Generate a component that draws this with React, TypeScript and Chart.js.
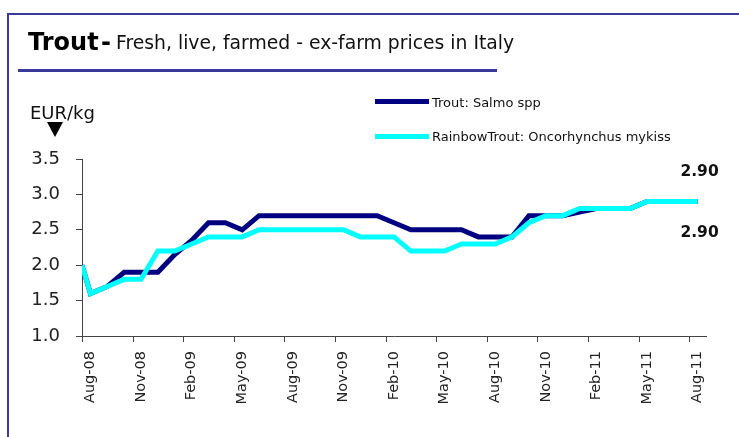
import React, { useEffect, useRef } from "react";
import { Chart, registerables } from "chart.js";

Chart.register(...registerables);

// ---- data ----
const tickLabels = [
  "Aug-08", "Nov-08", "Feb-09", "May-09", "Aug-09", "Nov-09", "Feb-10",
  "May-10", "Aug-10", "Nov-10", "Feb-11", "May-11", "Aug-11",
];

// first value = opening point at the axis, then monthly Aug-08 .. Aug-11
const troutSalmo = [
  2.0,
  1.6, 1.7, 1.9, 1.9, 1.9, 2.15, 2.35, 2.6, 2.6, 2.5,
  2.7, 2.7, 2.7, 2.7, 2.7, 2.7, 2.7, 2.7, 2.6, 2.5,
  2.5, 2.5, 2.5, 2.4, 2.4, 2.4, 2.7, 2.7, 2.7, 2.75,
  2.8, 2.8, 2.8, 2.9, 2.9, 2.9, 2.9,
];

const rainbowTrout = [
  2.0,
  1.6, 1.7, 1.8, 1.8, 2.2, 2.2, 2.3, 2.4, 2.4, 2.4,
  2.5, 2.5, 2.5, 2.5, 2.5, 2.5, 2.4, 2.4, 2.4, 2.2,
  2.2, 2.2, 2.3, 2.3, 2.3, 2.4, 2.6, 2.7, 2.7, 2.8,
  2.8, 2.8, 2.8, 2.9, 2.9, 2.9, 2.9,
];

const seriesNames = ["Trout: Salmo spp", "RainbowTrout: Oncorhynchus mykiss"];
const seriesColors = ["#000080", "#00FFFF"];

const yMin = 1.0;
const yMax = 3.5;
const yStep = 0.5;
const monthsSpan = 37;
const monthsPerTick = 3;

const FONT = '"DejaVu Sans", sans-serif';
const AXIS = "#444444";
const FRAME = "#3a3a9a";

const xOf = (i: number) => (i === 0 ? 0 : i - 0.5);
const toPoints = (arr: number[]) => arr.map((v, i) => ({ x: xOf(i), y: v }));

const decorPlugin = {
  id: "decor",
  afterDraw(chart: any) {
    const { ctx, chartArea, scales } = chart;
    const x = scales.x;
    const y = scales.y;
    ctx.save();
    ctx.strokeStyle = AXIS;
    ctx.lineWidth = 1;
    for (let k = 0; k < tickLabels.length; k++) {
      const px = Math.round(x.getPixelForValue(k * monthsPerTick)) + 0.5;
      ctx.beginPath();
      ctx.moveTo(px, chartArea.bottom);
      ctx.lineTo(px, chartArea.bottom + 6);
      ctx.stroke();
    }
    ctx.font = `bold 15.5px ${FONT}`;
    ctx.fillStyle = "#111111";
    ctx.textAlign = "center";
    ctx.textBaseline = "middle";
    chart.data.datasets.forEach((ds: any, di: number) => {
      const last = ds.data[ds.data.length - 1];
      const px = x.getPixelForValue(last.x) + 2;
      const py = y.getPixelForValue(last.y) + (di === 0 ? -30 : 31);
      ctx.fillText(last.y.toFixed(2), px, py);
    });
    ctx.restore();
  },
};

export default function App() {
  const canvasRef = useRef<HTMLCanvasElement | null>(null);

  useEffect(() => {
    if (!canvasRef.current) return;
    Chart.defaults.font.family = FONT;
    const chart = new Chart(canvasRef.current, {
      type: "line",
      data: {
        datasets: [
          {
            label: seriesNames[0],
            data: toPoints(troutSalmo),
            borderColor: seriesColors[0],
            backgroundColor: seriesColors[0],
            borderWidth: 5,
            pointRadius: 0,
            tension: 0,
            order: 1,
          },
          {
            label: seriesNames[1],
            data: toPoints(rainbowTrout),
            borderColor: seriesColors[1],
            backgroundColor: seriesColors[1],
            borderWidth: 5,
            pointRadius: 0,
            tension: 0,
            order: 0,
          },
        ],
      },
      options: {
        animation: false,
        responsive: false,
        layout: { padding: { top: 159, right: 33, left: 0, bottom: 0 } },
        plugins: {
          legend: { display: false },
          title: { display: false },
          tooltip: { enabled: false },
        },
        scales: {
          x: {
            type: "linear",
            min: 0,
            max: monthsSpan,
            afterBuildTicks: (scale: any) => {
              scale.ticks = tickLabels.map((_, k) => ({ value: k * monthsPerTick + 0.5 }));
            },
            afterFit: (scale: any) => {
              scale.height = 101;
            },
            ticks: {
              autoSkip: false,
              minRotation: 90,
              maxRotation: 90,
              padding: 15,
              color: "#222222",
              font: { size: 14.5, family: FONT },
              callback: (_v: any, i: number) => tickLabels[i],
            },
            grid: { display: false, drawTicks: false },
            border: { display: true, color: AXIS, width: 1 },
          },
          y: {
            min: yMin,
            max: yMax,
            afterFit: (scale: any) => {
              scale.width = 82;
            },
            ticks: {
              stepSize: yStep,
              padding: 16,
              color: "#222222",
              font: { size: 18, family: FONT },
              callback: (v: any) => Number(v).toFixed(1),
            },
            grid: {
              display: true,
              drawOnChartArea: false,
              drawTicks: true,
              tickLength: 6,
              color: AXIS,
            },
            border: { display: true, color: AXIS, width: 1 },
          },
        },
      },
      plugins: [decorPlugin],
    } as any);
    return () => chart.destroy();
  }, []);

  const abs = (o: React.CSSProperties): React.CSSProperties => ({
    position: "absolute",
    whiteSpace: "nowrap",
    fontFamily: FONT,
    ...o,
  });

  return (
    <div
      style={{
        position: "absolute",
        left: 0,
        top: 0,
        width: 739,
        height: 437,
        background: "#ffffff",
        overflow: "hidden",
      }}
    >
      <canvas ref={canvasRef} width={739} height={437} style={{ position: "absolute", left: 0, top: 0, display: "block" }} />
      {/* frame */}
      <div style={abs({ left: 7, top: 13, width: 740, height: 430, borderLeft: `2px solid ${FRAME}`, borderTop: `2px solid ${FRAME}` })} />
      {/* title */}
      <div style={abs({ left: 28, top: 30, fontSize: 24, lineHeight: "24px", fontWeight: "bold", color: "#000" })}>Trout</div>
      <div style={abs({ left: 101, top: 30, fontSize: 24, lineHeight: "24px", fontWeight: "bold", color: "#000" })}>-</div>
      <div style={abs({ left: 116, top: 34, fontSize: 18.8, lineHeight: "18.8px", color: "#111" })}>
        Fresh, live, farmed - ex-farm prices in Italy
      </div>
      <div style={abs({ left: 18, top: 69, width: 479, height: 3, background: FRAME })} />
      {/* legend */}
      <div style={abs({ left: 375, top: 99, width: 54, height: 5, background: seriesColors[0] })} />
      <div style={abs({ left: 432, top: 95, fontSize: 13, lineHeight: "16px", color: "#111" })}>{seriesNames[0]}</div>
      <div style={abs({ left: 375, top: 134, width: 54, height: 5, background: seriesColors[1] })} />
      <div style={abs({ left: 432, top: 129, fontSize: 13, lineHeight: "16px", color: "#111" })}>{seriesNames[1]}</div>
      {/* unit */}
      <div style={abs({ left: 30, top: 104, fontSize: 18, lineHeight: "18px", color: "#111" })}>EUR/kg</div>
      <div
        style={{
          position: "absolute",
          left: 47,
          top: 122,
          width: 0,
          height: 0,
          borderLeft: "8px solid transparent",
          borderRight: "8px solid transparent",
          borderTop: "15px solid #000",
        }}
      />
    </div>
  );
}
